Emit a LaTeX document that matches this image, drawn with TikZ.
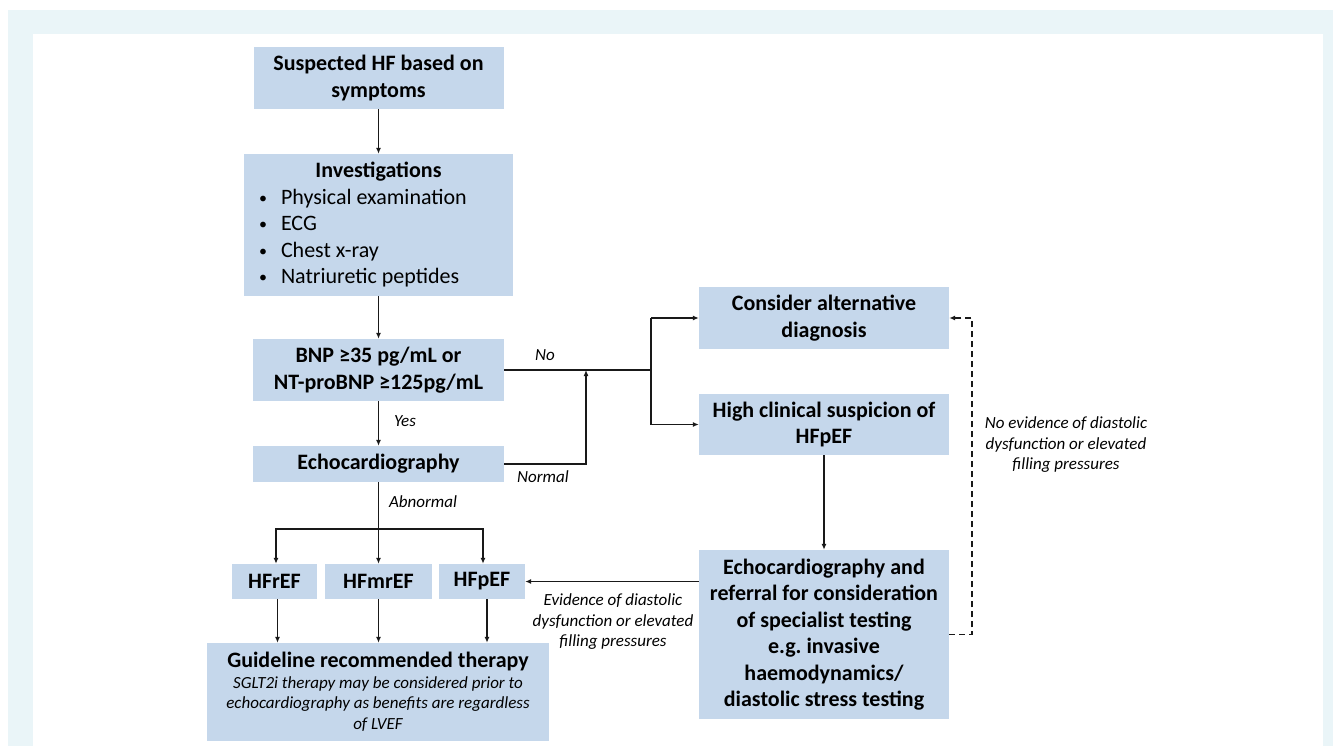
\documentclass[tikz,border=0pt]{standalone}
\usepackage{fontspec}
\setmainfont{Carlito}
\usetikzlibrary{arrows.meta}
\definecolor{boxblue}{HTML}{C5D7EB}
\definecolor{framebg}{HTML}{EAF5F8}
\frenchspacing
\newcommand{\bul}[1]{\hspace*{15pt}\makebox[22pt][l]{\raisebox{1pt}{\fontsize{16}{16}\selectfont\textbullet}}#1\par}
\begin{document}
\begin{tikzpicture}[x=1pt,y=-1pt,
  box/.style={fill=boxblue, draw=none, inner sep=0pt, align=center,
    font=\bfseries\fontsize{22}{26.5}\selectfont},
  lbl/.style={font=\itshape\fontsize{17}{20.5}\selectfont, align=center, inner sep=0pt},
  arr/.style={line width=1.6pt, draw=black!90, -{Latex[length=6pt,width=5pt]}},
  ln/.style={line width=1.6pt, draw=black!90}]
\useasboundingbox (0,0) rectangle (1333,746);
\fill[framebg] (8,10) rectangle (1333,746);
\fill[white] (33,34) rectangle (1323,746);

% left column
\node[box, minimum width=250pt, minimum height=62pt] (sus) at (378.5,78) {Suspected HF based on\\symptoms};
\node[box, minimum width=269pt, minimum height=142pt, text width=269pt, align=flush left] (inv) at (378.5,225)
 {{\centering Investigations\par}
  \mdseries
  \bul{Physical examination}
  \bul{ECG}
  \bul{Chest x-ray}
  \bul{Natriuretic peptides}};
\node[box, minimum width=251pt, minimum height=62pt] (bnp) at (378.5,370) {BNP ≥35 pg/mL or\\NT-proBNP ≥125pg/mL};
\node[box, minimum width=251pt, minimum height=36pt] (echo) at (378.5,464) {Echocardiography};

\node[box, minimum width=85pt, minimum height=35pt] (hfr) at (274.5,581.5) {HFrEF};
\node[box, minimum width=107pt, minimum height=35pt] (hfm) at (378.5,581.5) {HFmrEF};
\node[box, minimum width=86pt, minimum height=35pt] (hfp) at (482,581.5) {HFpEF};

\node[box, minimum width=342pt, minimum height=98pt, text width=342pt, align=flush center] (guide) at (378,692)
 {{\fontsize{22}{24}\selectfont Guideline recommended therapy\par}
  {\mdseries\itshape\fontsize{17}{20.5}\selectfont SGLT2i therapy may be considered prior to\par
   echocardiography as benefits are regardless\par of LVEF\par}};

% right column
\node[box, minimum width=250pt, minimum height=62pt] (alt) at (824,318) {Consider alternative\\diagnosis};
\node[box, minimum width=250pt, minimum height=61pt] (high) at (824,424.5) {High clinical suspicion of\\HFpEF};
\node[box, minimum width=250pt, minimum height=169pt] (ref) at (824,634.5)
 {Echocardiography and\\referral for consideration\\of specialist testing\\e.g. invasive\\haemodynamics/\\diastolic stress testing};

% connectors
\coordinate (jt) at (651,318);
\coordinate (nm) at (586,464);
\coordinate (bl) at (276,529);
\coordinate (br) at (483,529);
\coordinate (dr) at (972,634.5);

\draw[arr] (sus) -- (inv);
\draw[arr] (inv) -- (bnp);
\draw[arr] (bnp) -- (echo);
\draw[ln] (bnp.east) -- (bnp.east -| jt);
\draw[ln] (jt) -- (jt |- high.west);
\draw[arr] (jt) -- (alt.west);
\draw[arr] (jt |- high.west) -- (high.west);
\draw[arr] (echo.east) -- (nm) -- (nm |- bnp.east);
\draw[arr] (echo.south) -- (hfm.north);
\draw[arr] (echo.south |- bl) -- (bl) -- (bl |- hfr.north);
\draw[arr] (echo.south |- br) -- (br) -- (br |- hfp.north);
\draw[arr] ([xshift=3pt]hfr.south) -- ([xshift=3pt]hfr.south |- guide.north);
\draw[arr] (hfm.south) -- (hfm.south |- guide.north);
\draw[arr] ([xshift=5pt]hfp.south) -- ([xshift=5pt]hfp.south |- guide.north);
\draw[arr] (high.south) -- (ref.north);
\draw[arr] (ref.west |- hfp.east) -- (hfp.east);
\draw[arr, dashed, dash pattern=on 6pt off 4pt] (ref.east) -- (dr) -- (dr |- alt.east) -- (alt.east);

% labels
\node[lbl] (lno) at (545,355) {No};
\node[lbl] (lnormal) at (543,477) {Normal};
\node[lbl] (lyes) at (405,421) {Yes};
\node[lbl] (labn) at (423,502) {Abnormal};
\node[lbl] (lev) at (613,622) {Evidence of diastolic\\dysfunction or elevated\\filling pressures};
\node[lbl] (lnoev) at (1066,445) {No evidence of diastolic\\dysfunction or elevated\\filling pressures};
\end{tikzpicture}
\end{document}
